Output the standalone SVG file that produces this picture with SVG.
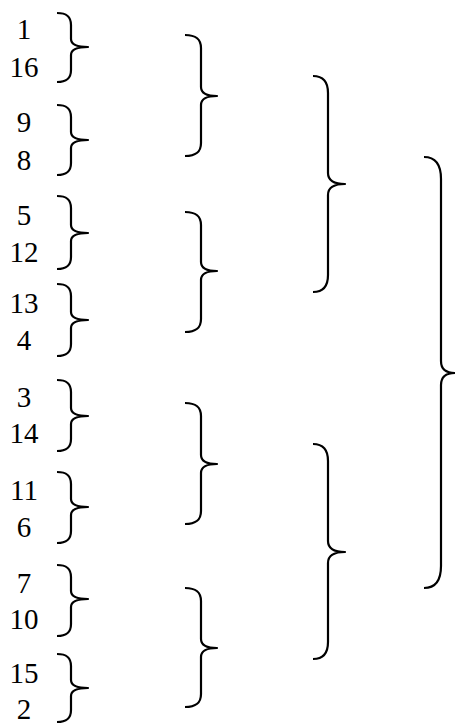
<svg xmlns="http://www.w3.org/2000/svg" width="455" height="724" viewBox="0 0 455 724">
<style>
text{font-family:"Liberation Serif","Times New Roman",serif;font-size:29px;fill:#000;text-anchor:middle}
.b{fill:none;stroke:#000;stroke-width:2.2;stroke-linecap:butt;stroke-linejoin:round}
</style>
<rect width="455" height="724" fill="#fff"/>
<g id="n1"><text x="24" y="39">1</text></g>
<g id="n16"><text x="24" y="77">16</text></g>
<g id="n9"><text x="24" y="132">9</text></g>
<g id="n8"><text x="24" y="170">8</text></g>
<g id="n5"><text x="24" y="225">5</text></g>
<g id="n12"><text x="24" y="262">12</text></g>
<g id="n13"><text x="24" y="313">13</text></g>
<g id="n4"><text x="24" y="350">4</text></g>
<g id="n3"><text x="24" y="407">3</text></g>
<g id="n14"><text x="24" y="443">14</text></g>
<g id="n11"><text x="24" y="500">11</text></g>
<g id="n6"><text x="24" y="537">6</text></g>
<g id="n7"><text x="24" y="593">7</text></g>
<g id="n10"><text x="24" y="629">10</text></g>
<g id="n15"><text x="24" y="683">15</text></g>
<g id="n2"><text x="24" y="719">2</text></g>
<g id="connectors">
<path class="b" d="M57,13 C66,13 71,16 71,25 L71,39 C71,44 76,47 88,47 C76,47 71,50 71,55 L71,70 C71,79 66,82 57,82"/>
<path class="b" d="M57,105 C66,105 71,108 71,117 L71,132 C71,137 76,140 88,140 C76,140 71,143 71,148 L71,163 C71,172 66,175 57,175"/>
<path class="b" d="M57,196 C66,196 71,199 71,208 L71,225 C71,230 76,233 88,233 C76,233 71,236 71,241 L71,257 C71,266 66,269 57,269"/>
<path class="b" d="M57,284 C66,284 71,287 71,296 L71,312 C71,317 76,320 88,320 C76,320 71,323 71,328 L71,344 C71,353 66,356 57,356"/>
<path class="b" d="M57,380 C66,380 71,383 71,392 L71,408 C71,413 76,416 88,416 C76,416 71,419 71,424 L71,439 C71,448 66,451 57,451"/>
<path class="b" d="M57,472 C66,472 71,475 71,484 L71,499 C71,504 76,507 88,507 C76,507 71,510 71,515 L71,531 C71,540 66,543 57,543"/>
<path class="b" d="M57,565 C66,565 71,568 71,577 L71,591 C71,596 76,599 88,599 C76,599 71,602 71,607 L71,624 C71,633 66,636 57,636"/>
<path class="b" d="M57,654 C66,654 71,657 71,666 L71,680 C71,685 76,688 88,688 C76,688 71,691 71,696 L71,710 C71,719 66,722 57,722"/>
<path class="b" d="M185,35 C195,35 201,38 201,48 L201,87 C201,93 206,96 217,96 C206,96 201,99 201,105 L201,143 C201,153 195,156 185,156"/>
<path class="b" d="M185,212 C195,212 201,215 201,225 L201,262 C201,268 206,271 217,271 C206,271 201,274 201,280 L201,319 C201,329 195,332 185,332"/>
<path class="b" d="M185,403 C195,403 201,406 201,416 L201,455 C201,461 206,464 217,464 C206,464 201,467 201,473 L201,511 C201,521 195,524 185,524"/>
<path class="b" d="M185,588 C195,588 201,591 201,601 L201,639 C201,645 206,648 217,648 C206,648 201,651 201,657 L201,694 C201,704 195,707 185,707"/>
<path class="b" d="M313,76 C323,76 328,81 328,93 L328,173 C328,180 333,184 345,184 C333,184 328,188 328,195 L328,275 C328,287 323,292 313,292"/>
<path class="b" d="M313,444 C323,444 328,449 328,461 L328,541 C328,548 333,552 345,552 C333,552 328,556 328,563 L328,642 C328,654 323,659 313,659"/>
<path class="b" d="M424,157 C435,157 441,164 441,179 L441,361 C441,368 445,373 455,373 C445,373 441,378 441,385 L441,566 C441,581 435,588 424,588"/>
</g>
</svg>
